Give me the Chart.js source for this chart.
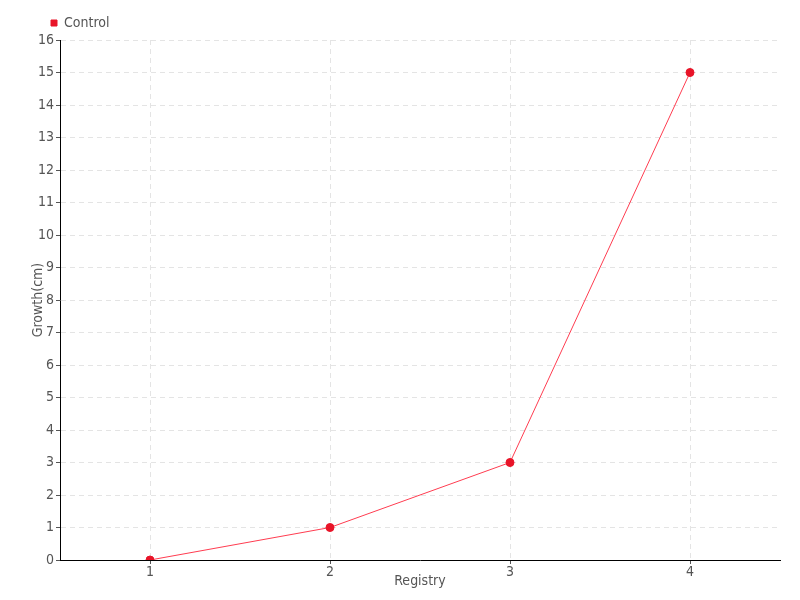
<!DOCTYPE html>
<html>
<head>
<meta charset="utf-8">
<script src="https://cdn.jsdelivr.net/npm/chart.js@4"></script>
<style>
	body { margin: 0; background: #fff; }
	#wrap { width: 800px; height: 600px; }
</style>
</head>
<body>
<div id="wrap"><canvas id="chart"></canvas></div>
<script>
var registry = ['1', '2', '3', '4'];
var control = [0, 1, 3, 15];

var font_family = '"DejaVu Sans Condensed", "Liberation Sans Narrow", sans-serif';

var ctx = document.getElementById('chart').getContext('2d');
new Chart(ctx, {
	type: 'line',
	data: {
		labels: registry,
		datasets: [{
			label: 'Control',
			data: control,
			borderColor: 'rgb(255, 60, 80)',
			backgroundColor: 'rgb(232, 20, 40)',
			pointBackgroundColor: 'rgb(232, 20, 40)',
			pointBorderColor: 'rgb(232, 20, 40)',
			borderWidth: 1,
			pointRadius: 4,
			pointHoverRadius: 4,
			tension: 0
		}]
	},
	options: {
		responsive: true,
		maintainAspectRatio: false,
		animation: false,
		layout: { padding: { left: 30, right: 20, top: 6, bottom: 10 } },
		plugins: {
			legend: {
				display: true,
				align: 'start',
				labels: {
					usePointStyle: true,
					pointStyle: 'rect',
					boxWidth: 6,
					boxHeight: 6,
					padding: 10,
					color: '#555',
					font: { family: font_family, size: 14 }
				}
			},
			tooltip: { enabled: false }
		},
		scales: {
			x: {
				offset: true,
				grid: {
					offset: false,
					color: '#e4e4e4',
					tickColor: '#555',
					tickLength: 4
				},
				border: { display: true, color: '#000', width: 1, dash: [5, 4] },
				ticks: { color: '#555', font: { family: font_family, size: 14 }, padding: 0 },
				title: { display: true, text: 'Registry', color: '#555', padding: { top: 0, bottom: 0 }, font: { family: font_family, size: 14 } },
				afterFit: function (scale) { scale.height = 30; }
			},
			y: {
				min: 0,
				max: 16,
				ticks: { stepSize: 1, color: '#555', font: { family: font_family, size: 14 }, padding: 2 },
				grid: {
					color: '#e4e4e4',
					tickColor: '#555',
					tickLength: 4
				},
				border: { display: true, color: '#000', width: 1, dash: [5, 4] },
				title: { display: true, text: 'Growth(cm)', color: '#555', padding: { top: 0, bottom: 0 }, font: { family: font_family, size: 14 } },
				afterFit: function (scale) { scale.width = 30; }
			}
		}
	},
	plugins: [{
		id: 'legend_shift',
		afterLayout: function (chart) {
			chart.legend.left += 11;
			chart.legend.right += 11;
		}
	}]
});
</script>
</body>
</html>
